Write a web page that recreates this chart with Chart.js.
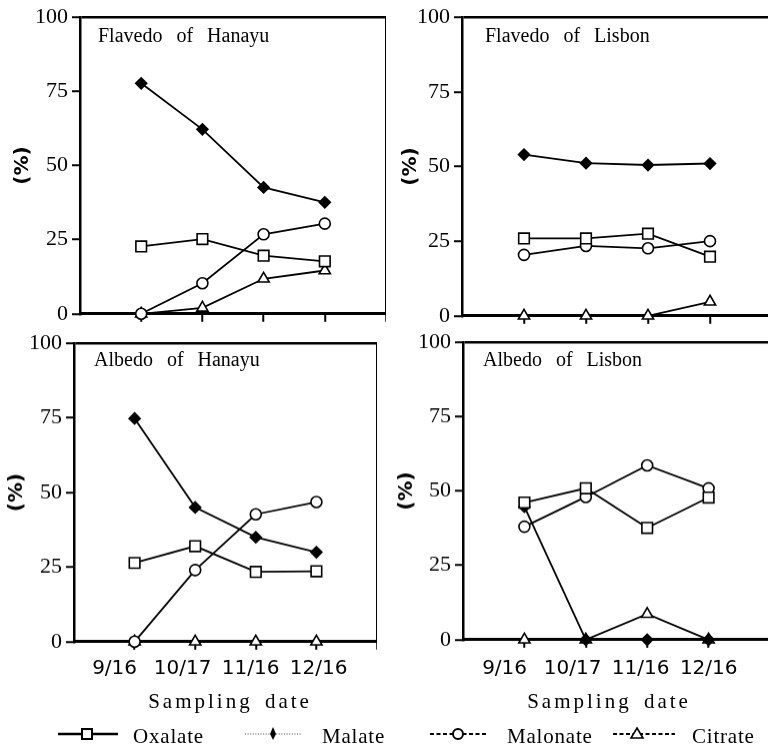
<!DOCTYPE html>
<html><head><meta charset="utf-8">
<script src="https://cdn.jsdelivr.net/npm/chart.js@4.4.1/dist/chart.umd.min.js"></script>
<style>
html,body{margin:0;padding:0;background:#fff;width:768px;height:752px;overflow:hidden;position:relative;}
canvas{position:absolute;}
#overlay{position:absolute;left:0;top:0;}
</style></head><body>
<canvas id="c0"></canvas>
<canvas id="c1"></canvas>
<canvas id="c2"></canvas>
<canvas id="c3"></canvas>
<svg id="overlay" width="768" height="752" xmlns="http://www.w3.org/2000/svg"></svg>
<script>
// ---------- data ----------
const dates = ['9/16', '10/17', '11/16', '12/16'];
const seriesNames = ['Oxalate', 'Malate', 'Malonate', 'Citrate'];
const panelTitles = ['Flavedo of Hanayu', 'Flavedo of Lisbon', 'Albedo of Hanayu', 'Albedo of Lisbon'];
const yTickValues = [0, 25, 50, 75, 100];
const yLabel = '(%)';
const xLabel = 'Sampling date';

const flavedoHanayuOxalate  = [22.7, 25.2, 19.6, 17.7];
const flavedoHanayuMalate   = [77.7, 62.2, 42.6, 37.6];
const flavedoHanayuMalonate = [0, 10.3, 26.8, 30.4];
const flavedoHanayuCitrate  = [0, 2.0, 11.8, 14.6];

const flavedoLisbonOxalate  = [25.9, 25.9, 27.5, 19.8];
const flavedoLisbonMalate   = [54.0, 51.1, 50.5, 51.0];
const flavedoLisbonMalonate = [20.4, 23.4, 22.6, 25.0];
const flavedoLisbonCitrate  = [0, 0, 0, 4.7];

const albedoHanayuOxalate  = [26.4, 32.0, 23.4, 23.6];
const albedoHanayuMalate   = [74.8, 45.0, 35.0, 30.0];
const albedoHanayuMalonate = [0, 24.0, 42.7, 46.8];
const albedoHanayuCitrate  = [0, 0, 0, 0];

const albedoLisbonOxalate  = [46.1, 50.9, 37.6, 47.8];
const albedoLisbonMalate   = [44.7, 0, 0, 0];
const albedoLisbonMalonate = [38.0, 48.0, 58.6, 50.9];
const albedoLisbonCitrate  = [0, 0, 8.6, 0];

// ---------- layout & style ----------
const panelSeries = [
  [flavedoHanayuOxalate, flavedoHanayuMalate, flavedoHanayuMalonate, flavedoHanayuCitrate],
  [flavedoLisbonOxalate, flavedoLisbonMalate, flavedoLisbonMalonate, flavedoLisbonCitrate],
  [albedoHanayuOxalate, albedoHanayuMalate, albedoHanayuMalonate, albedoHanayuCitrate],
  [albedoLisbonOxalate, albedoLisbonMalate, albedoLisbonMalonate, albedoLisbonCitrate]
];
// area = target plot rectangle in page pixels; labelFirst/labelStep = where the date labels sit
const panelLayout = [
  {left: 0,   top: 0,   area: {l: 80,  t: 15,  r: 386, b: 317}, titleX: 23,  showDates: false, xH: 14},
  {left: 390, top: 0,   area: {l: 462, t: 15,  r: 772, b: 319}, titleX: 411, showDates: false, xH: 14},
  {left: 0,   top: 326, area: {l: 74,  t: 341, r: 380, b: 643}, titleX: 17,  showDates: true, xH: 8, labelFirst: 115, labelStep: 68.7, labelCenterY: 670},
  {left: 390, top: 325, area: {l: 463, t: 340, r: 773, b: 641}, titleX: 407, showDates: true, xH: 8, labelFirst: 505, labelStep: 68.7, labelCenterY: 670}
];
const seriesStyle = [
  {pointStyle: 'rect',     radius: 7.5, fill: '#fff'},
  {pointStyle: 'rectRot',  radius: 5.5, fill: '#000'},
  {pointStyle: 'circle',   radius: 5.5, fill: '#fff'},
  {pointStyle: 'triangle', radius: 6.5, fill: '#fff'}
];
const clear = 'rgba(0,0,0,0)';
const tickFont = {family: 'Liberation Serif', size: 22};
const dateFont = {family: 'DejaVu Sans', size: 20};
const yTitleFont = {family: 'DejaVu Sans', size: 20, weight: 'bold'};

panelLayout.forEach((L, p) => {
  const A = L.area;
  const cv = document.getElementById('c' + p);
  const st = {yW: A.l - L.left, padTop: A.t - L.top, w: A.r - L.left, h: A.b - L.top + L.xH + (L.showDates ? 40 : 0)};
  cv.width = st.w; cv.height = st.h;
  cv.style.left = L.left + 'px'; cv.style.top = L.top + 'px';
  const dateLH = dateFont.size * 1.2;
  const datasets = panelSeries[p].map((vals, s) => ({
    label: seriesNames[s],
    data: vals.map((v, i) => ({x: i + 1, y: v})),
    xAxisID: 'x', yAxisID: 'y',
    borderColor: '#000',
    borderWidth: 1.8,
    pointStyle: seriesStyle[s].pointStyle,
    pointRadius: seriesStyle[s].radius,
    pointHoverRadius: seriesStyle[s].radius,
    pointBackgroundColor: seriesStyle[s].fill,
    pointBorderColor: '#000',
    pointBorderWidth: 1.6,
    tension: 0,
    clip: false
  }));
  const scales = {
    x: {
      type: 'linear', min: 0, max: 5, position: 'bottom', weight: 0,
      afterFit: s => { s.height = L.xH; },
      border: {display: true, color: '#000', width: 3},
      grid: {
        drawOnChartArea: true, drawTicks: true, tickLength: 8,
        lineWidth: 2.5, tickWidth: 2,
        color: c => (c.tick && c.tick.value === 5) ? '#000' : clear,
        tickColor: c => (c.tick && c.tick.value >= 1) ? '#000' : clear
      },
      ticks: {display: false, stepSize: 1}
    },
    y: {
      type: 'linear', min: 0, max: 100, position: 'left',
      afterFit: s => { s.width = st.yW; },
      afterBuildTicks: s => { s.ticks = yTickValues.map(v => ({value: v})); },
      border: {display: true, color: '#000', width: 2.5},
      grid: {
        drawOnChartArea: true, drawTicks: true, tickLength: 8,
        lineWidth: 2.5, tickWidth: 2,
        color: c => (c.tick && c.tick.value === 100) ? '#000' : clear,
        tickColor: '#000'
      },
      ticks: {padding: 4, color: '#000', font: tickFont},
      title: {
        display: true, text: yLabel, color: '#000', font: yTitleFont,
        padding: {top: L.titleX - L.left - yTitleFont.size * 0.6, bottom: 0}
      }
    }
  };
  if (L.showDates) {
    const w = A.r - A.l;
    scales.xd = {
      type: 'linear', position: 'bottom', weight: 1,
      min: 1 - (L.labelFirst - A.l) / L.labelStep,
      max: 1 + (A.r - L.labelFirst) / L.labelStep,
      afterBuildTicks: s => { s.ticks = dates.map((d, i) => ({value: i + 1})); },
      afterFit: s => { s.height = 40; },
      border: {display: false},
      grid: {display: false, drawTicks: false},
      ticks: {
        autoSkip: false, maxRotation: 0, minRotation: 0, color: '#000', font: dateFont,
        padding: L.labelCenterY - A.b - L.xH - dateLH / 2,
        callback: v => dates[Math.round(v) - 1]
      }
    };
  }
  const chart = new Chart(cv, {
    type: 'line',
    data: {datasets},
    options: {
      responsive: false,
      animation: false,
      events: [],
      layout: {autoPadding: false, padding: {top: st.padTop, right: 0, left: 0, bottom: 0}},
      plugins: {legend: {display: false}, tooltip: {enabled: false}},
      scales
    }
  });
  // nudge the canvas so the plot rectangle lands where the reference has it
  for (let k = 0; k < 3; k++) {
    const ca = chart.chartArea;
    const dR = A.r - (L.left + ca.right);
    const dB = A.b - (L.top + ca.bottom);
    const dL = A.l - (L.left + ca.left);
    const dT = A.t - (L.top + ca.top);
    if (Math.abs(dR) < 0.5 && Math.abs(dB) < 0.5 && Math.abs(dL) < 0.5 && Math.abs(dT) < 0.5) break;
    st.yW += dL;
    chart.options.layout.padding.top += dT;
    st.w += dR + dL; st.h += dB + dT;
    cv.width = st.w; cv.height = st.h;
    chart.resize(st.w, st.h);
    chart.update();
  }
});

// ---------- overlay text: panel titles, axis label, legend ----------
const NS = 'http://www.w3.org/2000/svg';
const svg = document.getElementById('overlay');
function el(tag, attrs, text) {
  const e = document.createElementNS(NS, tag);
  for (const k in attrs) e.setAttribute(k, attrs[k]);
  if (text !== undefined) e.textContent = text;
  svg.appendChild(e);
  return e;
}
const titlePos = [[98, 42], [485, 42], [94, 366], [483, 366]];
panelTitles.forEach((t, i) => el('text', {x: titlePos[i][0], y: titlePos[i][1], 'font-family': 'Liberation Serif', 'font-size': 20, 'word-spacing': 9, fill: '#000'}, t));
[[230, 708], [609, 708]].forEach(([x, y]) => el('text', {x, y, 'text-anchor': 'middle', 'font-family': 'Liberation Serif', 'font-size': 21, 'letter-spacing': 3, 'word-spacing': 4, fill: '#000'}, xLabel));

// legend
const ly = 734;
const legendText = [133, 322, 507, 692];
seriesNames.forEach((n, i) => el('text', {x: legendText[i], y: 743, 'font-family': 'Liberation Serif', 'font-size': 21, 'letter-spacing': 0.8, fill: '#000'}, n));
el('line', {x1: 58, y1: ly, x2: 118, y2: ly, stroke: '#000', 'stroke-width': 2.5});
el('rect', {x: 82, y: ly - 5, width: 10, height: 10, fill: '#fff', stroke: '#000', 'stroke-width': 2});
el('line', {x1: 245, y1: ly, x2: 302, y2: ly, stroke: '#444', 'stroke-width': 1, 'stroke-dasharray': '1,1.6'});
el('path', {d: `M273,${ly-7} L276,${ly} L273,${ly+6} L270,${ly} Z`, fill: '#000'});
el('line', {x1: 430, y1: ly, x2: 487, y2: ly, stroke: '#000', 'stroke-width': 2, 'stroke-dasharray': '4,2.5'});
el('circle', {cx: 458, cy: ly, r: 5, fill: '#fff', stroke: '#000', 'stroke-width': 2});
el('line', {x1: 613, y1: ly, x2: 675, y2: ly, stroke: '#000', 'stroke-width': 1.8, 'stroke-dasharray': '4,2.5'});
el('polygon', {points: `637,${ly-6} 643,${ly+4} 631,${ly+4}`, fill: '#fff', stroke: '#000', 'stroke-width': 1.6});
</script>
</body></html>
